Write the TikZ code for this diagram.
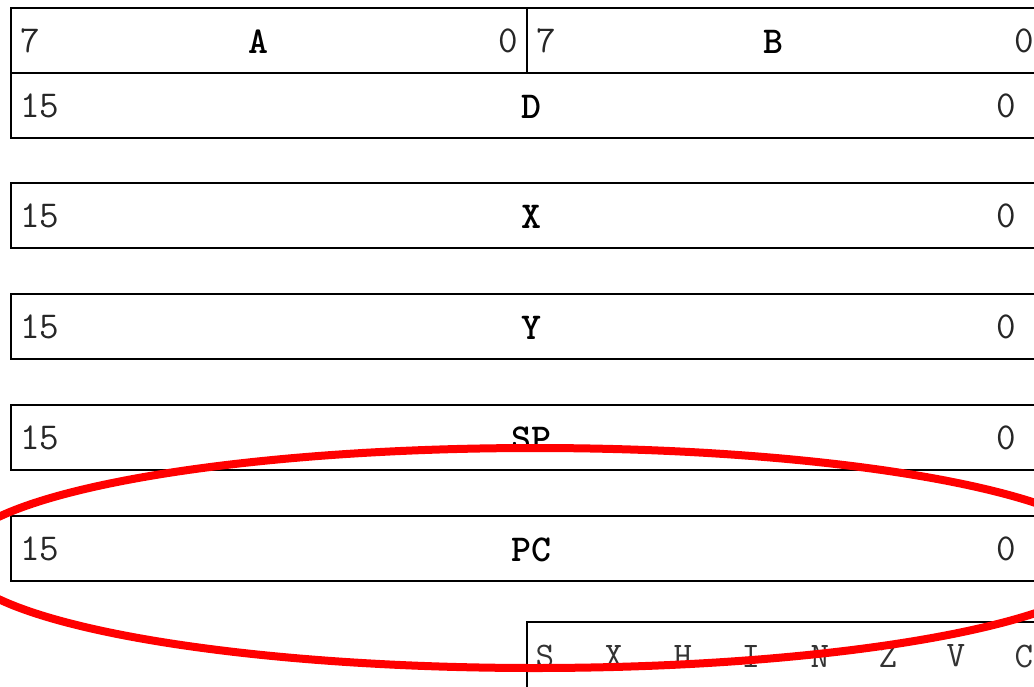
\documentclass[tikz,border=0pt]{standalone}
\usepackage{fontspec}
\begin{document}
\begin{tikzpicture}[x=1pt,y=-1pt,
  regbox/.style={draw=black,line width=2.8pt,fill=white},
  bitnum/.style={font=\fontsize{38}{40}\selectfont\ttfamily,inner sep=0pt,text=black!85},
  regname/.style={font=\fontsize{38}{40}\selectfont\ttfamily\bfseries,inner sep=0pt},
  flagtxt/.style={font=\fontsize{36}{40}\selectfont\ttfamily,inner sep=0pt,text=black!80},
  hiliteoval/.style={draw=red,line width=8pt}]
\useasboundingbox (0,0) rectangle (1034,686);
\clip (0,0) rectangle (1034,686);
% A / B row
\draw[regbox] (11,8) rectangle (1050,73);
\draw[regbox] (527,8) -- (527,73);
\node[bitnum,anchor=west] (a7) at (20,40.5) {7};
\node[regname] (aname) at (258,42) {A};
\node[bitnum,anchor=east] (a0) at (518,40.5) {0};
\node[bitnum,anchor=west] (b7) at (536,40.5) {7};
\node[regname] (bname) at (773,42) {B};
\node[bitnum,anchor=east] (b0) at (1034,40.5) {0};
% 16-bit registers
\foreach \yc/\nm in {105.5/D,215.5/X,326.5/Y,437.5/SP,548.5/PC}{
  \draw[regbox] (11,\yc-32.5) rectangle (1050,\yc+32.5);
  \node[bitnum,anchor=west] (hi\nm) at (20,\yc) {15};
  \node[regname] (n\nm) at (531,\yc+1) {\nm};
  \node[bitnum,anchor=east] (lo\nm) at (1016,\yc) {0};
}
% condition code register
\draw[regbox] (527,622) rectangle (1050,720);
\foreach \xc/\f in {545/S,614/X,683/H,751/I,820/N,888/Z,956/V,1024/C}{
  \node[flagtxt] (f\f) at (\xc,656) {\f};
}
% red highlight ellipse
\draw[hiliteoval] (535,558) ellipse [x radius=578pt, y radius=110pt];
\end{tikzpicture}
\end{document}
